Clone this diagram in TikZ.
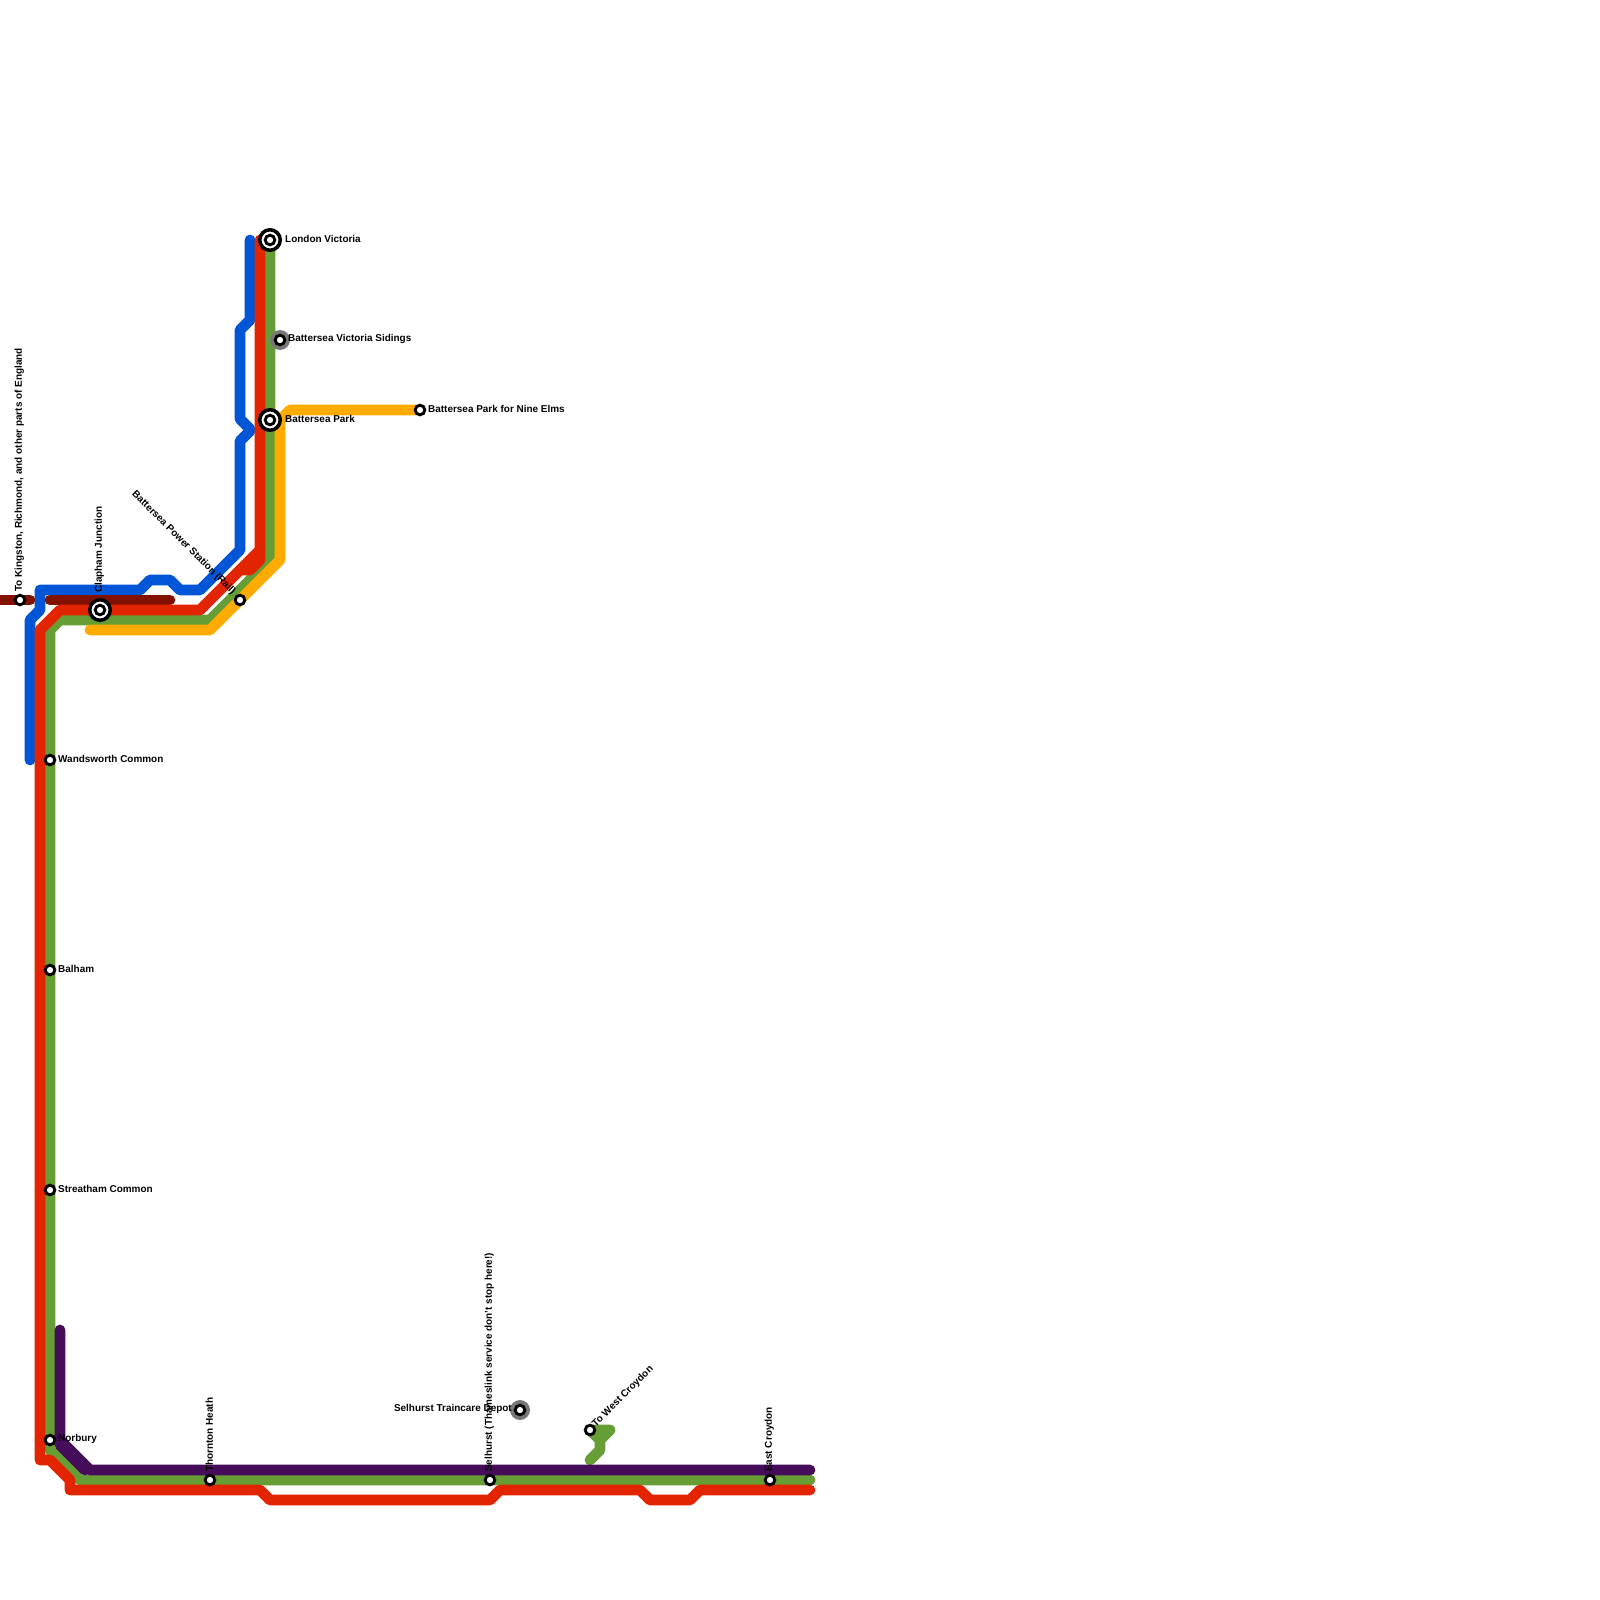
\documentclass[tikz,border=0pt]{standalone}
\usepackage{fontspec}
\setsansfont{Liberation Sans}
\usetikzlibrary{backgrounds}
\definecolor{mapblue}{HTML}{0056D6}
\definecolor{mapred}{HTML}{E32400}
\definecolor{mapgreen}{HTML}{669D34}
\definecolor{maporange}{HTML}{FFAB01}
\definecolor{mappurple}{HTML}{450D59}
\definecolor{mapbrown}{HTML}{831100}
\definecolor{mapgray}{HTML}{777777}

\begin{document}
\begin{tikzpicture}[
  x=1pt, y=-1pt,
  font=\sffamily\bfseries\fontsize{9.95}{12}\selectfont,
  route/.style={line width=10.8pt, line cap=round, line join=round},
  stn/.style={circle, draw=black, fill=white, line width=2.9pt, minimum size=9.6pt, inner sep=0pt, outer sep=0pt},
  hub/.style={circle, draw=black, fill=white, line width=3.5pt, minimum size=20.5pt, inner sep=0pt, outer sep=0pt},
  depot/.style={circle, fill=mapgray, minimum size=20pt, inner sep=0pt, outer sep=0pt},
  tag/.style={anchor=west, inner sep=0pt, yshift=0.6pt},
  ltag/.style={anchor=east, inner sep=0pt, yshift=0.6pt},
  uptag/.style={xshift=-0.7pt, rotate=90, anchor=west, inner sep=0pt},
]
\useasboundingbox (0,0) rectangle (1600,1600);

\node[hub] (victoriaring) at (270,240) {};
\node[stn] (victoria) at (270,240) {};
\node[depot] (sidingsring) at (280,340) {};
\node[stn] (sidings) at (280,340) {};
\node[hub] (parkring) at (270,420) {};
\node[stn] (park) at (270,420) {};
\node[stn] (nineelms) at (420,410) {};
\node[stn] (powerstation) at (240,600) {};
\node[hub] (claphamring) at (100,610) {};
\node[stn] (clapham) at (100,610) {};
\node[stn] (kingston) at (20,600) {};
\node[stn] (wandsworth) at (50,760) {};
\node[stn] (balham) at (50,970) {};
\node[stn] (streatham) at (50,1190) {};
\node[stn] (norbury) at (50,1440) {};
\node[stn] (thornton) at (210,1480) {};
\node[stn] (selhurst) at (490,1480) {};
\node[depot] (traincarering) at (520,1410) {};
\node[stn] (traincare) at (520,1410) {};
\node[stn] (westcroydon) at (590,1430) {};
\node[stn] (eastcroydon) at (770,1480) {};

\coordinate (brownstart) at (0,600);

\begin{scope}[on background layer]
\draw[route, mapblue] (30,760) -- (30,620) -- (40,610) -- (40,590) -- (140,590) -- (150,580) -- (170,580) -- (180,590) -- (200,590) -- (240,550) -- (240,441) -- (250,431) -- (250,429) -- (240,419) -- (240,330) -- (250,320) -- (250,240);
\draw[route, mapbrown] (brownstart) -- (kingston.center) -- (30,600);
\draw[route, mapbrown] (50,600) -- (170,600);
\draw[route, mapgreen] (victoria.center) -- (270,560) -- (210,620) -- (60,620) -- (50,630) -- (norbury.center) -- (50,1450) -- (80,1480) -- (810,1480);
\draw[route, mapgreen] (590,1460) -- (600,1450) -- (600,1440) -- (610,1430) -- (westcroydon.center) -- (600,1440);
\draw[route, maporange] (nineelms.center) -- (290,410) -- (280,420) -- (280,560) -- (210,630) -- (90,630);
\draw[route, mapred] (260,240) -- (260,560) -- (250,570) -- (240,570) -- (200,610) -- (60,610) -- (40,630) -- (40,1460) -- (50,1460) -- (70,1480) -- (70,1490) -- (260,1490) -- (270,1500) -- (490,1500) -- (500,1490) -- (640,1490) -- (650,1500) -- (690,1500) -- (700,1490) -- (810,1490);
\draw[route, mapred] (260,550) -- (240,570);
\draw[route, mappurple] (60,1330) -- (60,1440) -- (90,1470) -- (810,1470);
\draw[route, mappurple] (60,1445) -- (85,1470);
\end{scope}

\node[uptag] at ([yshift=8pt]kingston.center) {To Kingston, Richmond, and other parts of England};
\node[uptag] at ([yshift=17pt]clapham.center) {Clapham Junction};
\node[uptag] at ([yshift=8pt]thornton.center) {Thornton Heath};
\node[uptag] at ([yshift=8pt]selhurst.center) {Selhurst (Thameslink service don't stop here!)};
\node[uptag] at ([yshift=8pt]eastcroydon.center) {East Croydon};
\node[tag] at ([xshift=15pt]victoria.center) {London Victoria};
\node[tag] at ([xshift=8pt]sidings.center) {Battersea Victoria Sidings};
\node[tag] at ([xshift=15pt]park.center) {Battersea Park};
\node[tag] at ([xshift=8pt]nineelms.center) {Battersea Park for Nine Elms};
\node[tag] at ([xshift=8pt]wandsworth.center) {Wandsworth Common};
\node[tag] at ([xshift=8pt]balham.center) {Balham};
\node[tag] at ([xshift=8pt]streatham.center) {Streatham Common};
\node[tag] at ([xshift=8pt]norbury.center) {Norbury};
\node[ltag] at ([xshift=-8pt]traincare.center) {Selhurst Traincare Depot};
\node[ltag, rotate=-45] at ([xshift=-6pt,yshift=6pt]powerstation.center) {Battersea Power Station (Rail)};
\node[tag, rotate=45] at ([xshift=4pt,yshift=4pt]westcroydon.center) {To West Croydon};

\end{tikzpicture}
\end{document}
